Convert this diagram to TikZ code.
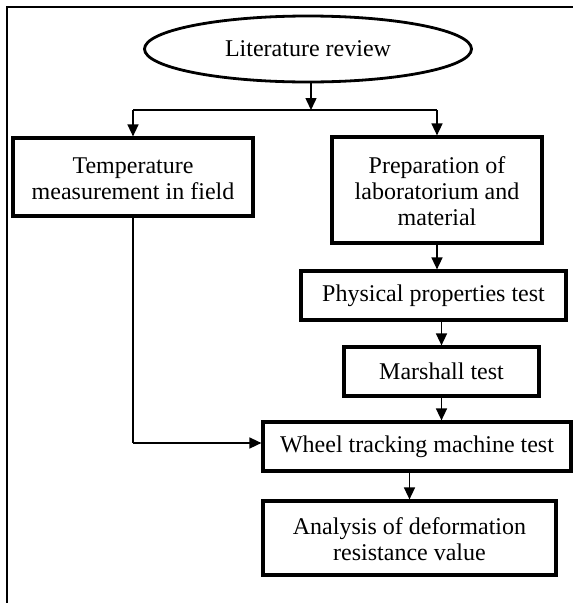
\documentclass[tikz,border=0pt]{standalone}
\usepackage{fontspec}
\setmainfont{Liberation Serif}
\usetikzlibrary{shapes.geometric,arrows.meta,calc}
\newcommand{\mlines}[1]{\raisebox{-4pt}[\height][\depth]{\begin{tabular}{@{}c@{}}#1\end{tabular}}}
\begin{document}
\begin{tikzpicture}[x=1pt,y=-1pt,
  every node/.style={font=\fontsize{24}{26}\selectfont, inner sep=0pt, align=center},
  box/.style={draw, line width=3.2pt, rectangle},
  oval/.style={draw, line width=2.8pt, ellipse},
  arr/.style={line width=1.5pt, -{Triangle[length=12pt,width=11pt]}},
  ln/.style={line width=1.5pt},
  frame/.style={line width=2.2pt}]
\useasboundingbox (0,0) rectangle (573,603);
% outer frame (top and left only visible)
\coordinate (ftl) at (7,7);
\coordinate (ftr) at (573,7);
\coordinate (fbl) at (7,603);
\draw[frame] (ftr) -- (ftl) -- (fbl);
% nodes
\node[oval, minimum width=327, minimum height=66] (lit) at (308,49) {Literature review};
\node[box, minimum width=240, minimum height=78] (temp) at (133,177) {\mlines{Temperature\\measurement in field}};
\node[box, minimum width=210, minimum height=106] (prep) at (437,190) {\mlines{Preparation of\\laboratorium and\\material}};
\node[box, minimum width=265, minimum height=49] (phys) at (433.5,295.5) {Physical properties test};
\node[box, minimum width=195, minimum height=49] (mar) at (441.5,371.5) {Marshall test};
\node[box, minimum width=308, minimum height=49] (wheel) at (417,446.5) {Wheel tracking machine test};
\node[box, minimum width=293, minimum height=74] (ana) at (409.5,538) {\mlines{Analysis of deformation\\resistance value}};
% connectors
\coordinate (j) at (311,110);
\draw[arr] (lit.south -| j) -- (j);
\draw[ln] (temp.north |- j) -- (prep.north |- j);
\draw[arr] (temp.north |- j) -- (temp.north);
\draw[arr] (prep.north |- j) -- (prep.north);
\draw[arr] (prep.south) -- (prep.south |- phys.north);
\draw[arr] (phys.south -| mar.north) -- (mar.north);
\draw[arr] (mar.south) -- (mar.south |- wheel.north);
\draw[arr] (wheel.south -| ana.north) -- (ana.north);
\coordinate (k) at (133,443);
\draw[ln] (temp.south) -- (k);
\draw[arr] (k) -- (k -| wheel.west);
\end{tikzpicture}
\end{document}
